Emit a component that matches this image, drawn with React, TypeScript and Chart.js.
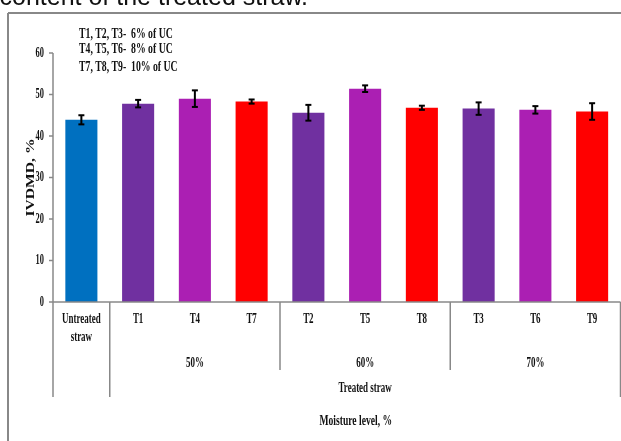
import React, { useEffect, useRef } from "react";
import { Chart, registerables } from "chart.js";

Chart.register(...registerables);

// IVDMD (%) of untreated and urea-treated straw, with standard errors
const categories = ["Untreated straw", "T1", "T4", "T7", "T2", "T5", "T8", "T3", "T6", "T9"];
const ivdmd = [43.9, 47.8, 49.0, 48.3, 45.6, 51.4, 46.8, 46.6, 46.3, 45.9];
const stdErr = [1.1, 0.9, 2.0, 0.5, 1.9, 0.8, 0.5, 1.5, 0.9, 2.0];
const barColors = [
  "#0070C0",
  "#7030A0", "#AB1FB3", "#FF0000",
  "#7030A0", "#AB1FB3", "#FF0000",
  "#7030A0", "#AB1FB3", "#FF0000",
];
const moistureGroups = ["50%", "60%", "70%"];
const legendLines = ["T1, T2, T3-  6% of UC", "T4, T5, T6-  8% of UC", "T7, T8, T9-  10% of UC"];
const yTicks = [0, 10, 20, 30, 40, 50, 60];

const AXIS_GREY = "#888888";
const INK = "#111111";

function drawText(
  ctx: CanvasRenderingContext2D,
  text: string,
  x: number,
  y: number,
  size: number,
  sx: number,
  align: CanvasTextAlign,
  family = '"Liberation Serif", "Times New Roman", serif',
  weight = "bold"
) {
  ctx.save();
  ctx.translate(x, y);
  ctx.scale(sx, 1);
  ctx.font = `${weight} ${size}px ${family}`;
  ctx.textAlign = align;
  ctx.textBaseline = "middle";
  ctx.fillStyle = INK;
  ctx.fillText(text, 0, 0);
  ctx.restore();
}

function line(ctx: CanvasRenderingContext2D, x1: number, y1: number, x2: number, y2: number) {
  ctx.beginPath();
  ctx.moveTo(x1, y1);
  ctx.lineTo(x2, y2);
  ctx.stroke();
}

const errorBarsPlugin = {
  id: "errorBars",
  afterDatasetsDraw(chart: any) {
    const { ctx } = chart;
    const y = chart.scales.y;
    const meta = chart.getDatasetMeta(0);
    ctx.save();
    ctx.strokeStyle = "#000";
    ctx.lineWidth = 2;
    meta.data.forEach((bar: any, i: number) => {
      const top = y.getPixelForValue(ivdmd[i] + stdErr[i]);
      const bottom = y.getPixelForValue(ivdmd[i] - stdErr[i]);
      const cx = bar.x;
      line(ctx, cx, top, cx, bottom);
      line(ctx, cx - 3, top, cx + 3, top);
      line(ctx, cx - 3, bottom, cx + 3, bottom);
    });
    ctx.restore();
  },
};

const framePlugin = {
  id: "frameAndLabels",
  afterDraw(chart: any) {
    const { ctx, chartArea } = chart;
    const x = chart.scales.x;
    const y = chart.scales.y;
    const left = chartArea.left;
    const right = chartArea.right;
    const base = y.getPixelForValue(0);
    const cw = (right - left) / categories.length;

    // Heading line running above the figure
    drawText(ctx, "content of the treated straw.", -0.5, -1.5, 25, 1, "left",
      '"Liberation Sans", Arial, sans-serif', "normal");

    ctx.save();
    // outer figure frame
    ctx.strokeStyle = AXIS_GREY;
    ctx.lineWidth = 2;
    line(ctx, 8, 13, chart.width + 2, 13);
    line(ctx, 8, 13, 8, chart.height + 2);

    // axes
    ctx.lineWidth = 1.5;
    line(ctx, left, y.getPixelForValue(60), left, base + 95);
    line(ctx, left, base, right, base);
    line(ctx, right, base, right, base + 95);
    yTicks.forEach((t) => {
      const py = y.getPixelForValue(t);
      line(ctx, left - 4, py, left, py);
    });

    // category group dividers below the axis
    const edge = (i: number) => x.getPixelForValue(i) - cw / 2;
    line(ctx, edge(1), base, edge(1), base + 95);
    line(ctx, edge(4), base, edge(4), base + 68);
    line(ctx, edge(7), base, edge(7), base + 68);
    ctx.restore();

    // y tick labels
    yTicks.forEach((t) => {
      drawText(ctx, String(t), left - 9, y.getPixelForValue(t), 14, 0.6, "right");
    });

    // y axis title
    ctx.save();
    ctx.translate(31, (y.getPixelForValue(60) + base) / 2 + 0);
    ctx.rotate(-Math.PI / 2);
    drawText(ctx, "IVDMD, %", 0, 0, 12, 1.3, "center");
    ctx.restore();

    // category labels
    categories.forEach((c, i) => {
      const px = x.getPixelForValue(i);
      const parts = c.split(" ");
      if (parts.length > 1) {
        drawText(ctx, parts[0], px, base + 17, 14, 0.64, "center");
        drawText(ctx, parts[1], px, base + 35, 14, 0.64, "center");
      } else {
        drawText(ctx, c, px, base + 17, 14, 0.64, "center");
      }
    });

    // moisture groups
    moistureGroups.forEach((g, k) => {
      drawText(ctx, g, x.getPixelForValue(2 + k * 3), base + 61, 14, 0.64, "center");
    });

    drawText(ctx, "Treated straw", (edge(1) + right) / 2, base + 86, 14, 0.64, "center");
    drawText(ctx, "Moisture level, %", (left + right) / 2 + 19, base + 119, 15, 0.64, "center");

    // treatment key
    legendLines.forEach((l, i) => {
      drawText(ctx, l, 79, [34, 49.5, 67][i], 15, 0.65, "left");
    });
  },
};

export default function App() {
  const canvasRef = useRef<HTMLCanvasElement | null>(null);

  useEffect(() => {
    if (!canvasRef.current) return;
    const chart = new Chart(canvasRef.current, {
      type: "bar",
      data: {
        labels: categories,
        datasets: [
          {
            data: ivdmd,
            backgroundColor: barColors,
            borderWidth: 0,
            barPercentage: 0.565,
            categoryPercentage: 1,
          },
        ],
      },
      options: {
        responsive: false,
        animation: false,
        events: [],
        layout: { padding: { left: 53, right: 0.5, top: 53, bottom: 139 } },
        plugins: {
          legend: { display: false },
          tooltip: { enabled: false },
          title: { display: false },
        },
        scales: {
          x: { display: false },
          y: { display: false, min: 0, max: 60, ticks: { stepSize: 10 } },
        },
      },
      plugins: [errorBarsPlugin, framePlugin],
    });
    return () => chart.destroy();
  }, []);

  return (
    <div style={{ position: "absolute", left: 0, top: 0, width: 621, height: 441, background: "#fff" }}>
      <canvas ref={canvasRef} width={621} height={441} style={{ display: "block" }} />
    </div>
  );
}
